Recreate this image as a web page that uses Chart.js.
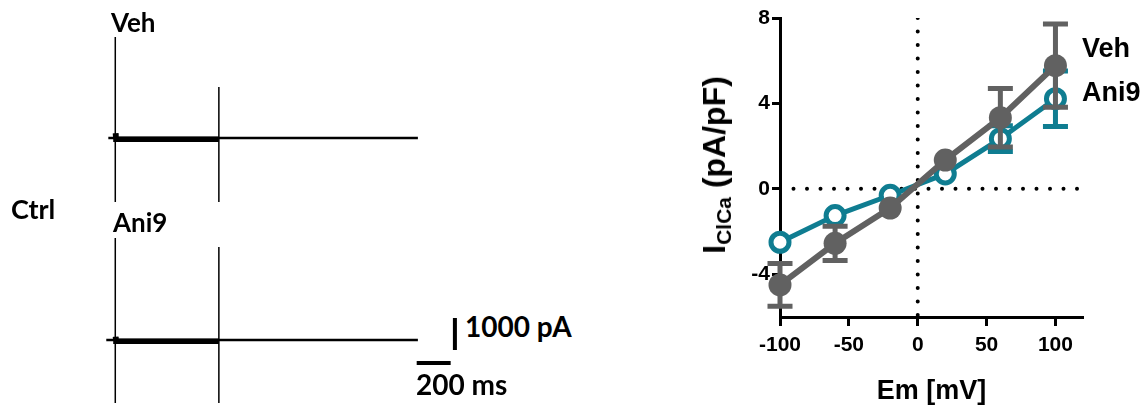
<!DOCTYPE html>
<html>
<head>
<meta charset="utf-8">
<script src="https://cdn.jsdelivr.net/npm/chart.js@4"></script>
<style>
  html, body { margin: 0; padding: 0; background: #fff; }
  #page { position: relative; width: 1148px; height: 411px; overflow: hidden; }
  .box { position: absolute; }
  .lbl { position: absolute; font-family: Lato, "Open Sans", sans-serif; font-weight: bold; line-height: 1; color: #000; white-space: nowrap; }
  .arial { font-family: "Liberation Sans", Arial, sans-serif; }
  #ytitle { position: absolute; left: 716px; top: 165px; transform: translate(-50%, -50%) rotate(-90deg);
            font-family: "Liberation Sans", Arial, sans-serif; font-weight: bold; font-size: 32px; white-space: nowrap; line-height: 1; }
  #ytitle sub { font-size: 21px; vertical-align: -6px; }
</style>
</head>
<body>
<div id="page">
  <div class="box" style="left:100px; top:30px; width:360px; height:178px;"><canvas id="vehTrace"></canvas></div>
  <div class="box" style="left:100px; top:232px; width:360px; height:178px;"><canvas id="aniTrace"></canvas></div>
  <div class="box" style="left:730px; top:0px; width:418px; height:411px;"><canvas id="iv"></canvas></div>

  <div class="lbl" style="left:111px; top:9px; font-size:26px;">Veh</div>
  <div class="lbl" style="left:113px; top:209px; font-size:26px;">Ani9</div>
  <div class="lbl" style="left:11px; top:195px; font-size:27px;">Ctrl</div>
  <div class="lbl" style="left:465px; top:312px; font-size:28px;">1000 pA</div>
  <div class="lbl" style="left:416px; top:370px; font-size:28px;">200 ms</div>

  <div id="ytitle">I<sub>ClCa</sub> (pA/pF)</div>
  <div class="lbl arial" style="left:1082px; top:35px; font-size:27px;">Veh</div>
  <div class="lbl arial" style="left:1082px; top:79px; font-size:27px;">Ani9</div>
</div>

<script>
"use strict";

// ---- current traces (ms, pA relative to holding) ----
const vehBaseT = [-41, 1782];
const vehBaseI = [0, 0];
const vehOnT = [0, 0];
const vehOnI = [3156, -2000];
const vehOffT = [610, 610];
const vehOffI = [1594, -2000];
const vehBandT = [1, 4, 610];
const vehBandI = [150, -40, -40];

const aniBaseT = [-53, 1782];
const aniBaseI = [0, 0];
const aniOnT = [0, 0];
const aniOnI = [3187, -1969];
const aniOffT = [610, 610];
const aniOffI = [2906, -1969];
const aniBandT = [1, 4, 610];
const aniBandI = [100, -40, -40];

// scale bars: 1000 pA, 200 ms
const barPaT = [2000, 2000];
const barPaI = [687, -313];
const barMsT = [1775, 1975];
const barMsI = [-720, -720];

// ---- I-V relation ----
const voltages = [-100, -60, -20, 20, 60, 100];
const vehMean = [-4.5, -2.55, -0.9, 1.35, 3.33, 5.77];
const vehSem = [1.0, 0.8, 0.2, 0.2, 1.37, 1.95];
const aniMean = [-2.5, -1.25, -0.3, 0.7, 2.35, 4.22];
const aniSem = [0.25, 0.2, 0.15, 0.15, 0.6, 1.3];
const xTicks = [-100, -50, 0, 50, 100];
const yTicks = [-4, 0, 4, 8];

const GREY = "#616161";
const TEAL = "#0f7d91";

const pts = (xs, ys) => xs.map((x, i) => ({ x, y: ys[i] }));

function traceSet(t, i, width) {
  return { data: pts(t, i), borderColor: "#000", borderWidth: width, pointRadius: 0, tension: 0 };
}

function makeTrace(id, sets) {
  return new Chart(document.getElementById(id), {
    type: "line",
    data: { datasets: sets },
    options: {
      animation: false,
      responsive: true,
      maintainAspectRatio: false,
      layout: { padding: 0 },
      plugins: { legend: { display: false }, tooltip: { enabled: false } },
      scales: {
        x: { type: "linear", min: -90, max: 2030, display: false },
        y: { min: -2187.5, max: 3375, display: false },
      },
    },
  });
}

makeTrace("vehTrace", [
  traceSet(vehBaseT, vehBaseI, 2.5),
  traceSet(vehOnT, vehOnI, 1.5),
  traceSet(vehOffT, vehOffI, 1.5),
  traceSet(vehBandT, vehBandI, 5.5),
]);

makeTrace("aniTrace", [
  traceSet(aniBaseT, aniBaseI, 2.5),
  traceSet(aniOnT, aniOnI, 1.5),
  traceSet(aniOffT, aniOffI, 1.5),
  traceSet(aniBandT, aniBandI, 5.5),
  traceSet(barPaT, barPaI, 4),
  traceSet(barMsT, barMsI, 4),
]);

// error bars drawn under each dataset's line and markers;
// bars shorter than the symbol are hidden, as in the original
const errorBars = {
  id: "errorBars",
  beforeDatasetDraw(chart, args) {
    const ds = chart.data.datasets[args.index];
    if (!ds.errors) return;
    const ctx = chart.ctx;
    const y = chart.scales.y;
    ctx.save();
    ctx.strokeStyle = ds.borderColor;
    ctx.lineWidth = 5;
    ds.errors.forEach((e, i) => {
      const pt = args.meta.data[i];
      const v = ds.data[i].y;
      const top = y.getPixelForValue(v + e);
      const bot = y.getPixelForValue(v - e);
      if (pt.y - top <= ds.pointRadius + 2) return;
      ctx.beginPath();
      ctx.moveTo(pt.x, top);
      ctx.lineTo(pt.x, bot);
      ctx.moveTo(pt.x - 12.5, top);
      ctx.lineTo(pt.x + 12.5, top);
      ctx.moveTo(pt.x - 12.5, bot);
      ctx.lineTo(pt.x + 12.5, bot);
      ctx.stroke();
    });
    ctx.restore();
  },
};

const tickFont = { family: "'Liberation Sans', Arial, sans-serif", size: 21, weight: "bold" };

new Chart(document.getElementById("iv"), {
  type: "line",
  data: {
    datasets: [
      {
        data: pts([0, 0], [8, -6]),
        borderColor: "#000", borderWidth: 4, borderDash: [0, 13.5], borderCapStyle: "round",
        pointRadius: 0, order: 10,
      },
      {
        data: pts([-100, 120], [0, 0]),
        borderColor: "#000", borderWidth: 4, borderDash: [0, 13.5], borderCapStyle: "round",
        pointRadius: 0, order: 10,
      },
      {
        label: "Ani9",
        data: pts(voltages, aniMean),
        errors: aniSem,
        borderColor: TEAL, borderWidth: 5,
        pointRadius: 9, pointBorderWidth: 5, pointBackgroundColor: "#fff", pointBorderColor: TEAL,
        order: 5, clip: false,
      },
      {
        label: "Veh",
        data: pts(voltages, vehMean),
        errors: vehSem,
        borderColor: GREY, borderWidth: 6,
        pointRadius: 11.5, pointBorderWidth: 0, pointBackgroundColor: GREY,
        order: 1, clip: false,
      },
    ],
  },
  options: {
    animation: false,
    responsive: true,
    maintainAspectRatio: false,
    layout: { padding: { top: 18, right: 65, bottom: 0, left: 0 } },
    plugins: { legend: { display: false }, tooltip: { enabled: false } },
    scales: {
      x: {
        type: "linear", min: -100, max: 120,
        afterBuildTicks: (s) => { s.ticks = xTicks.map((v) => ({ value: v })); },
        afterFit: (s) => { s.height = 94; },
        ticks: { color: "#000", font: tickFont, padding: 7, maxRotation: 0 },
        grid: { drawOnChartArea: false, tickLength: 9, tickWidth: 3, tickColor: "#000" },
        border: { width: 3, color: "#000" },
        title: {
          display: true, text: "Em [mV]", color: "#000",
          font: { family: "'Liberation Sans', Arial, sans-serif", size: 27, weight: "bold" },
          padding: { top: 0, bottom: 3 },
        },
      },
      y: {
        min: -6, max: 8,
        afterBuildTicks: (s) => { s.ticks = yTicks.map((v) => ({ value: v })); },
        afterFit: (s) => { s.width = 50; },
        ticks: { color: "#000", font: tickFont, padding: 2 },
        grid: { drawOnChartArea: false, tickLength: 8, tickWidth: 3, tickColor: "#000" },
        border: { width: 3, color: "#000" },
      },
    },
  },
  plugins: [errorBars],
});
</script>
</body>
</html>
